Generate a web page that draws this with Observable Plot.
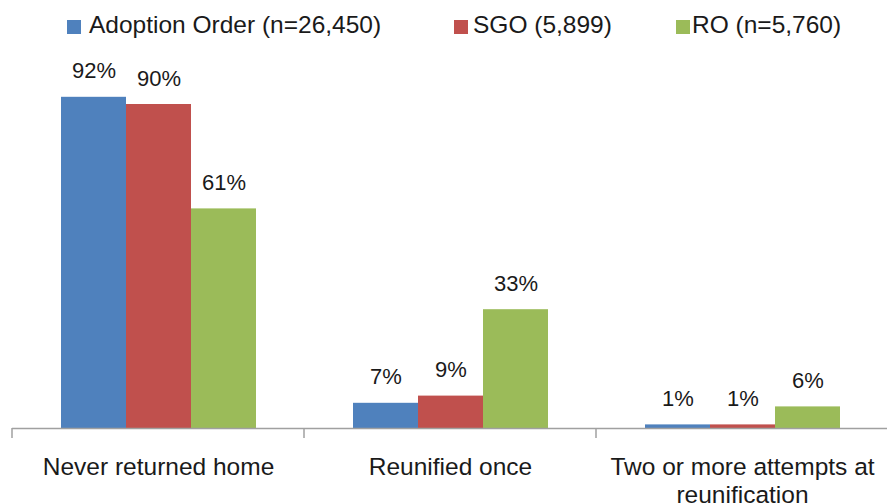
<!DOCTYPE html>
<html>
<head>
<meta charset="utf-8">
<script src="https://cdn.jsdelivr.net/npm/d3@7"></script>
<script src="https://cdn.jsdelivr.net/npm/@observablehq/plot@0.6"></script>
<style>
  body { margin: 0; background: #fff; font-family: "Liberation Sans", Arial, sans-serif; }
  #legend { position: relative; width: 887px; height: 50px; }
  .sw { position: absolute; top: 20px; width: 14px; height: 14px; }
  .lt { position: absolute; top: 13px; font-size: 24.5px; line-height: 24.5px; color: #1a1a1a; white-space: nowrap; }
  svg { display: block; }
</style>
</head>
<body>
<div id="legend"></div>
<div id="chart"></div>
<script>
const categories = ["Never returned home", "Reunified once", "Two or more attempts at reunification"];
const series = ["Adoption Order (n=26,450)", "SGO (5,899)", "RO (n=5,760)"];
const adoptionOrder = [92, 7, 1];
const sgo = [90, 9, 1];
const ro = [61, 33, 6];
const colors = ["#4F81BD", "#C0504D", "#9BBB59"];

const seriesValues = [adoptionOrder, sgo, ro];
const rows = [];
categories.forEach((c, i) => {
  series.forEach((s, j) => rows.push({category: c, series: s, value: seriesValues[j][i]}));
});

// Legend
const legendPos = [[67, 89], [454, 473], [676, 692]];
const legend = document.getElementById("legend");
series.forEach((s, j) => {
  const sw = document.createElement("div");
  sw.className = "sw";
  sw.style.left = legendPos[j][0] + "px";
  sw.style.background = colors[j];
  legend.appendChild(sw);
  const t = document.createElement("div");
  t.className = "lt";
  t.style.left = legendPos[j][1] + "px";
  t.textContent = s;
  legend.appendChild(t);
});

const H = 454, MB = 76;
const plot = Plot.plot({
  width: 887,
  height: H,
  marginLeft: 11,
  marginRight: -2,
  marginTop: 18,
  marginBottom: MB,
  style: {fontFamily: "'Liberation Sans', Arial, sans-serif", color: "#1a1a1a", background: "#fff"},
  fx: {domain: categories, paddingInner: 0, paddingOuter: 0},
  x: {domain: series, paddingInner: 0, paddingOuter: 0.746, axis: null},
  y: {domain: [0, 100], axis: null},
  color: {domain: series, range: colors},
  marks: [
    Plot.barY(rows, {fx: "category", x: "series", y: "value", fill: "series"}),
    Plot.ruleY([0], {stroke: "#a0a0a0", strokeWidth: 1.5}),
    Plot.text(rows, {fx: "category", x: "series", y: "value", text: d => d.value + "%", lineAnchor: "bottom", dy: -19, fontSize: 22, fill: "#1a1a1a"}),
    Plot.axisFx({anchor: "bottom", tickSize: 0, tickPadding: 27, fontSize: 24.5, lineHeight: 1.14, label: null,
      tickFormat: d => d.replace(" at ", " at\n")})
  ]
});
document.getElementById("chart").appendChild(plot);

// category boundary ticks, placed with the fx scale
const fx = plot.scale("fx");
const edges = categories.map(c => fx.apply(c));
edges.push(fx.apply(categories[categories.length - 1]) + fx.step);
const yb = H - MB;
d3.select(plot).append("g")
  .selectAll("line").data(edges).join("line")
  .attr("x1", d => d).attr("x2", d => d)
  .attr("y1", yb).attr("y2", yb + 10)
  .attr("stroke", "#a0a0a0").attr("stroke-width", 1.5);
</script>
</body>
</html>
